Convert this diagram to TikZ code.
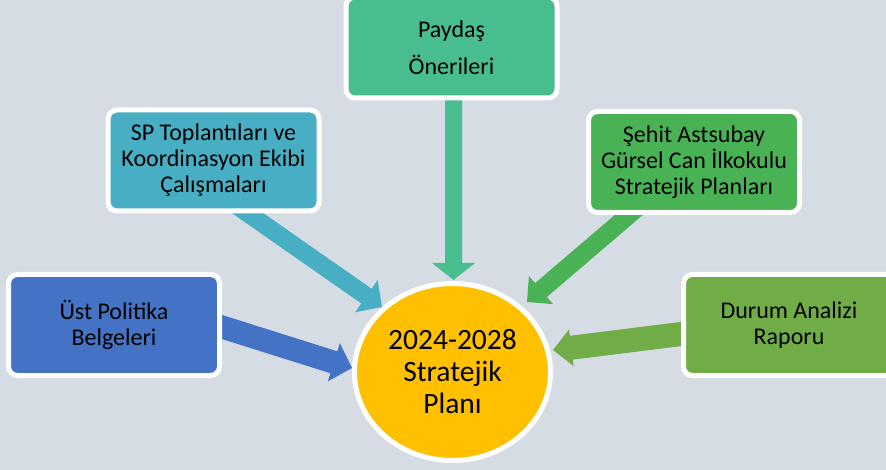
\documentclass[tikz,border=0pt]{standalone}
\usepackage{fontspec}
\setmainfont{Carlito}
\usetikzlibrary{calc,shapes.geometric}
\pgfdeclarelayer{background}
\pgfsetlayers{background,main}
\definecolor{bgc}{RGB}{214,220,228}
\definecolor{cust}{RGB}{68,114,196}
\definecolor{csp}{RGB}{72,174,195}
\definecolor{cpay}{RGB}{72,190,142}
\definecolor{cseh}{RGB}{72,178,84}
\definecolor{cdur}{RGB}{112,173,71}
\definecolor{cplan}{RGB}{255,192,0}
% #1 start coord, #2 tip coord, #3 half shaft, #4 half head, #5 head length, #6 colour
\newcommand\blockarrow[6]{%
  \coordinate (#1h) at ($(#2)!#5pt!(#1)$);
  \fill[#6] ($(#1)!#3pt!90:(#2)$) -- ($(#1h)!#3pt!90:(#2)$) -- ($(#1h)!#4pt!90:(#2)$) -- (#2)
    -- ($(#1h)!#4pt!-90:(#2)$) -- ($(#1h)!#3pt!-90:(#2)$) -- ($(#1)!#3pt!-90:(#2)$) -- cycle;}
\begin{document}
\begin{tikzpicture}[x=1pt,y=-1pt,
  box/.style={draw=white, line width=5pt, rounded corners=9pt, minimum width=211pt,
    minimum height=101pt, inner sep=0pt, align=center, text=black,
    font=\fontsize{24}{26}\selectfont}]
\useasboundingbox (0,0) rectangle (886,470);
\clip (0,0) rectangle (886,470);
% boxes
\node[box, fill=cust] (ust) at (114,325) {Üst Politika\\Belgeleri};
\node[box, fill=csp] (sp) at (213.5,160.5) {SP Toplantıları ve\\Koordinasyon Ekibi\\Çalışmaları};
\node[box, fill=cpay, font=\fontsize{24}{37}\selectfont] (pay) at (451.5,47.5) {Paydaş\\Önerileri};
\node[box, fill=cseh] (seh) at (694,162) {Şehit Astsubay\\Gürsel Can İlkokulu\\Stratejik Planları};
\node[box, fill=cdur] (dur) at (789,325) {Durum Analizi\\Raporu};
\node[ellipse, draw=white, line width=5pt, fill=cplan, minimum width=196pt, minimum height=177pt,
  inner sep=0pt, align=center, font=\fontsize{29.5}{32}\selectfont] (plan) at (452.5,372)
  {2024-2028\\Stratejik\\Planı};
% arrow end points
\coordinate (pays) at (453.5,60);   \coordinate (payt) at (453.5,280);
\coordinate (sps)  at (231,201.5);  \coordinate (spt)  at (382,307);
\coordinate (usts) at (203,321);    \coordinate (ustt) at (352,368);
\coordinate (sehs) at (644,202);    \coordinate (seht) at (527,302);
\coordinate (durs) at (701,331.5);  \coordinate (durt) at (553,350);
\begin{pgfonlayer}{background}
  \fill[bgc] (0,0) rectangle (886,470);
  \blockarrow{pays}{payt}{8.5}{21.5}{17}{cpay}
  \blockarrow{sps}{spt}{9}{19.7}{19}{csp}
  \blockarrow{usts}{ustt}{11.5}{20}{19}{cust}
  \blockarrow{sehs}{seht}{9.1}{18.5}{18.4}{cseh}
  \blockarrow{durs}{durt}{12}{18.5}{18.5}{cdur}
\end{pgfonlayer}
\end{tikzpicture}
\end{document}
